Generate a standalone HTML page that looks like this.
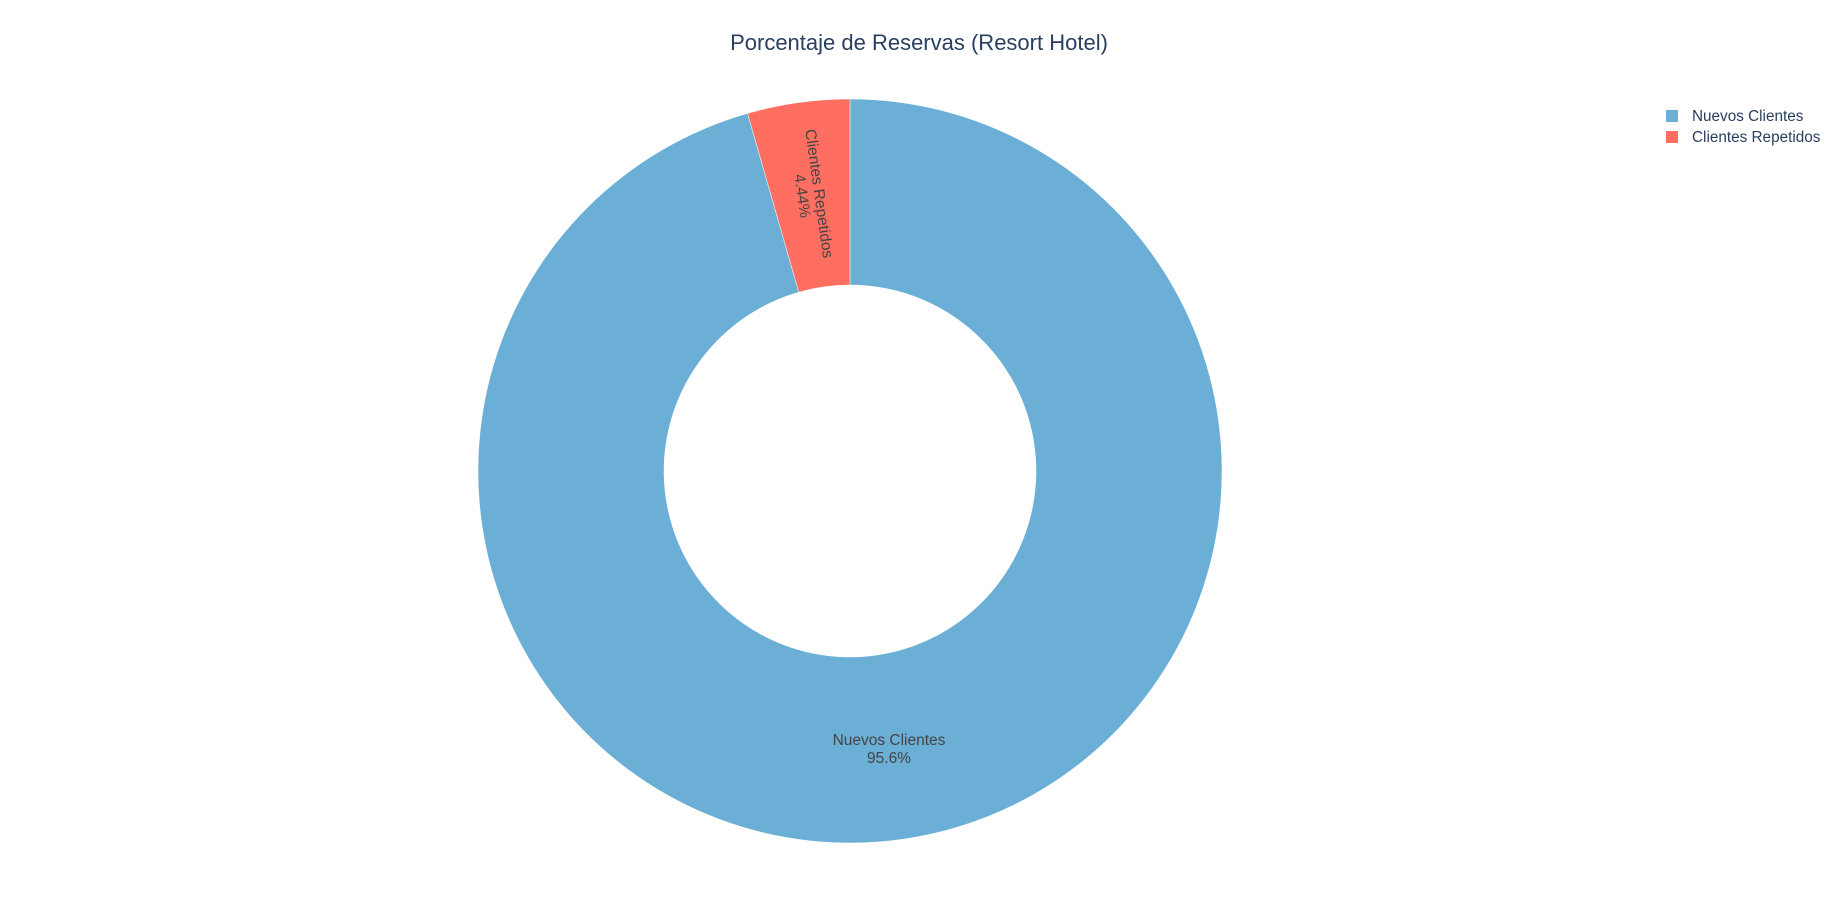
<!DOCTYPE html>
<html><head><meta charset="utf-8"><style>
body{margin:0;background:#fff;font-family:"Liberation Sans","DejaVu Sans",sans-serif;}
svg{display:block}
</style></head><body>
<svg id="chart" width="1838" height="924">
<text x="919" y="50" text-anchor="middle" font-size="22" fill="#2a3f5f">Porcentaje de Reservas (Resort Hotel)</text>
<g id="slices"></g>
<g>
<g><rect x="1666" y="110" width="12" height="12" fill="#6baed6"/><text x="1692" y="121" font-size="15.3" fill="#2a3f5f">Nuevos Clientes</text></g>
<g><rect x="1666" y="131" width="12" height="12" fill="#ff6f61"/><text x="1692" y="142" font-size="15.3" fill="#2a3f5f">Clientes Repetidos</text></g>
</g>
</svg>
<script>
const labels=["Nuevos Clientes","Clientes Repetidos"];
const values=[95.56,4.44];
const colors=["#6baed6","#ff6f61"];
const cx=850,cy=471,R=372,r=186;
const NS="http://www.w3.org/2000/svg";
const g=document.getElementById('slices');
const total=values.reduce((a,b)=>a+b,0);
function pt(a,rad){return [cx+rad*Math.sin(a),cy-rad*Math.cos(a)];}
let start=0;
values.forEach((v,i)=>{
  const sweep=v/total*2*Math.PI;
  const a0=start,a1=start+sweep;
  const large=sweep>Math.PI?1:0;
  const p0=pt(a0,R),p1=pt(a1,R),q1=pt(a1,r),q0=pt(a0,r);
  const p=document.createElementNS(NS,'path');
  p.setAttribute('d',`M${p0}A${R},${R} 0 ${large} 1 ${p1}L${q1}A${r},${r} 0 ${large} 0 ${q0}Z`);
  p.setAttribute('fill',colors[i]);p.setAttribute('stroke','#fff');p.setAttribute('stroke-width','0.5');
  
  
  g.appendChild(p);
  const mid=(a0+a1)/2;const pct=v/total*100;
  const txt=pct>=10?pct.toFixed(1)+'%':pct.toFixed(2)+'%';
  const t=document.createElementNS(NS,'text');
  t.setAttribute('font-size','15.5');t.setAttribute('fill','#444');t.setAttribute('text-anchor','middle');
  
  
  if(pct>=10){
    t.innerHTML=`<tspan x="${cx+39}" y="${745}">${labels[i]}</tspan><tspan x="${cx+39}" y="${763}">${txt}</tspan>`;
  }else{
    const [x,y]=pt(mid,(R+r)/2);
    const deg=90+mid*180/Math.PI-360;
    t.setAttribute('transform',`translate(${x},${y}) rotate(${deg})`);
    t.innerHTML=`<tspan x="0" y="-3">${labels[i]}</tspan><tspan x="0" y="14">${txt}</tspan>`;
  }
  g.appendChild(t);
  start=a1;
});
</script>
</body></html>
